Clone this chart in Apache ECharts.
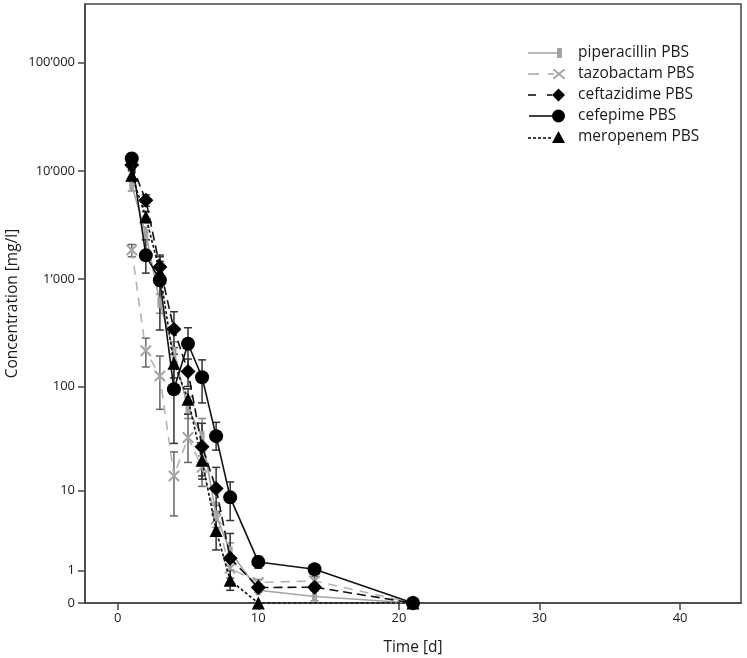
<!DOCTYPE html>
<html><head><meta charset="utf-8">
<script src="https://cdn.jsdelivr.net/npm/echarts@6/dist/echarts.min.js"></script>
<style>html,body{margin:0;padding:0;background:#fff}#c{width:747px;height:658px}</style>
</head><body><div id="c"></div>
<script>
// ---------- data ----------
const times = [1, 2, 3, 4, 5, 6, 7, 8, 10, 14, 21];
const seriesNames = ['piperacillin PBS', 'tazobactam PBS', 'ceftazidime PBS', 'cefepime PBS', 'meropenem PBS'];

const piperacillin     = [7400, 2600, 600, 210, 62, 34, 5.5, 2.0, 0.31, 0.15, 0];
const piperacillinLow  = [6500, 2300, 480, 170, 50, 22, 4.0, 1.5, 0.25, 0.05, 0];
const piperacillinHigh = [8400, 3000, 720, 260, 80, 50, 7.5, 2.6, 0.40, 0.30, 0];

const tazobactam     = [1850, 215, 125, 14, 33, 17, 5.0, 1.1, 0.55, 0.60, 0];
const tazobactamLow  = [1600, 152, 61, 5.4, 19, 11, 3.3, 0.7, 0.45, 0.45, 0];
const tazobactamHigh = [2080, 282, 192, 24, 55, 25, 7.0, 1.6, 0.65, 0.75, 0];

const ceftazidime     = [11300, 5350, 1290, 340, 138, 27, 10.5, 1.6, 0.39, 0.40, 0];
const ceftazidimeLow  = [10000, 4700, 920, 200, 100, 14, 6.0, 1.0, 0.30, 0.30, 0];
const ceftazidimeHigh = [12500, 6000, 1660, 495, 180, 45, 17, 3.4, 0.50, 0.50, 0];

const cefepime     = [13000, 1650, 970, 94, 250, 122, 34, 8.5, 1.4, 1.05, 0];
const cefepimeLow  = [11500, 1130, 335, 29, 148, 70, 25, 4.8, 1.1, 0.95, 0];
const cefepimeHigh = [14500, 2300, 1600, 160, 352, 177, 46, 12.2, 1.7, 1.15, 0];

const meropenem     = [9100, 3750, 1150, 165, 76, 20, 3.7, 0.62, 0, null, 0];
const meropenemLow  = [8000, 3300, 900, 120, 55, 13, 2.1, 0.31, 0, null, 0];
const meropenemHigh = [10300, 4200, 1450, 230, 95, 28, 5.8, 1.0, 0, null, 0];

const yTickValues = [0, 1, 10, 100, 1000, 10000, 100000];
const yTickLabels = ['0', '1', '10', '100', '1’000', '10’000', '100’000'];
const xTickValues = [0, 10, 20, 30, 40];

// ---------- helpers ----------
const tr = v => Math.log10(v + 1);
const FONT = "'Open Sans', 'Noto Sans', sans-serif";
const TXT = '#1a1a1a';
const AX = '#444';

const xPath = 'path://M0,0L1.6,0L12,10.4L12,12L10.4,12L0,1.6Z M12,0L12,1.6L1.6,12L0,12L0,10.4L10.4,0Z';

const styles = [
  {vals: piperacillin, lo: piperacillinLow, hi: piperacillinHigh, color: '#a3a3a3', mcolor: '#a3a3a3', ecolor: '#8a8a8a', lineType: 'solid', width: 1.6, symbol: 'rect', size: [5, 10],
   icon: 'path://M0,4.3H29V5.7H0Z M29,0H34V10H29Z', iw: 34, ih: 10},
  {vals: tazobactam, lo: tazobactamLow, hi: tazobactamHigh, color: '#b3b3b3', mcolor: '#a6a6a6', ecolor: '#666', lineType: [9, 7], width: 1.6, symbol: xPath, size: 11,
   icon: 'path://M0,4.3H11V5.7H0Z M20,4.3H26V5.7H20Z M25,0L26.5,0L37,8.75L37,10L35.5,10L25,1.25Z M37,0L37,1.25L26.5,10L25,10L25,8.75L35.5,0Z', iw: 37, ih: 10},
  {vals: ceftazidime, lo: ceftazidimeLow, hi: ceftazidimeHigh, color: '#111', mcolor: '#000', ecolor: '#333', lineType: [9, 5], width: 1.6, symbol: 'diamond', size: 15,
   icon: 'path://M0,5.8H8V7.2H0Z M19,5.8H24V7.2H19Z M30.5,0L37,6.5L30.5,13L24,6.5Z', iw: 37, ih: 13},
  {vals: cefepime, lo: cefepimeLow, hi: cefepimeHigh, color: '#111', mcolor: '#000', ecolor: '#333', lineType: 'solid', width: 1.6, symbol: 'circle', size: 14,
   icon: 'path://M1,5.8H24V7.2H1Z M24,6.5A6.5,6.5 0 1,1 37,6.5A6.5,6.5 0 1,1 24,6.5Z M0,6.4H0.01V6.6H0Z', iw: 37, ih: 13},
  {vals: meropenem, lo: meropenemLow, hi: meropenemHigh, color: '#111', mcolor: '#000', ecolor: '#333', lineType: [3, 2.2], width: 1.6, symbol: 'triangle', size: 13,
   icon: 'path://M0,6.3H3V7.7H0Z M5,6.3H8V7.7H5Z M10,6.3H13V7.7H10Z M15,6.3H18V7.7H15Z M20,6.3H23V7.7H20Z M30.5,0L37,12L24,12Z', iw: 37, ih: 12}
];

const legendCenters = [51, 72, 93, 114, 135];

function errorSeries(s, idx) {
  const data = [];
  times.forEach((t, i) => {
    if (s.lo[i] == null || s.hi[i] == null) return;
    if (s.hi[i] - s.lo[i] <= 0) return;
    data.push([t, tr(s.lo[i]), tr(s.hi[i])]);
  });
  return {
    type: 'custom', name: 'err' + idx, silent: true, z: 2, clip: true,
    data: data,
    renderItem: (params, api) => {
      const x = api.value(0);
      const p1 = api.coord([x, api.value(1)]);
      const p2 = api.coord([x, api.value(2)]);
      const w = 4;
      const st = {stroke: s.ecolor, lineWidth: 1.5, fill: null};
      return {type: 'group', children: [
        {type: 'line', shape: {x1: p1[0], y1: p1[1], x2: p2[0], y2: p2[1]}, style: st},
        {type: 'line', shape: {x1: p1[0] - w, y1: p1[1], x2: p1[0] + w, y2: p1[1]}, style: st},
        {type: 'line', shape: {x1: p2[0] - w, y1: p2[1], x2: p2[0] + w, y2: p2[1]}, style: st}
      ]};
    }
  };
}

function lineSeries(s, idx) {
  const data = [];
  times.forEach((t, i) => { if (s.vals[i] != null) data.push([t, tr(s.vals[i])]); });
  return {
    type: 'line', name: seriesNames[idx], data: data, z: 3 + idx,
    symbol: s.symbol, symbolSize: s.size, showAllSymbol: true,
    itemStyle: {color: s.mcolor, borderWidth: 0},
    lineStyle: {color: s.color, width: s.width, type: s.lineType},
    emphasis: {disabled: true}
  };
}

const series = [];
styles.forEach((s, i) => series.push(errorSeries(s, i)));
styles.forEach((s, i) => series.push(lineSeries(s, i)));

const yTr = yTickValues.map(tr);

const option = {
  animation: false,
  backgroundColor: '#fff',
  grid: {left: 85, right: 6, top: 4, bottom: 55, show: true, borderColor: AX, borderWidth: 1.5,
         containLabel: false, outerBoundsMode: 'none'},
  xAxis: {
    type: 'value', min: -2.326, max: 44.33,
    name: 'Time [d]', nameLocation: 'middle', nameGap: 37, nameMoveOverlap: false,
    nameTextStyle: {fontFamily: FONT, fontSize: 15.5, color: TXT},
    axisLine: {show: true, onZero: false, lineStyle: {color: AX, width: 1.5}},
    axisTick: {show: true, length: 7, customValues: xTickValues, lineStyle: {color: AX, width: 1.5}},
    axisLabel: {customValues: xTickValues, fontFamily: FONT, fontSize: 13, color: TXT, margin: 9},
    splitLine: {show: false}
  },
  yAxis: {
    type: 'value', min: 0, max: 5.544,
    name: 'Concentration [mg/l]', nameLocation: 'middle', nameGap: 64, nameMoveOverlap: false,
    nameTextStyle: {fontFamily: FONT, fontSize: 15.5, color: TXT},
    axisLine: {show: true, onZero: false, lineStyle: {color: AX, width: 1.5}},
    axisTick: {show: true, length: 7, customValues: yTr, lineStyle: {color: AX, width: 1.5}},
    axisLabel: {
      customValues: yTr, fontFamily: FONT, fontSize: 13, color: TXT, margin: 10,
      formatter: v => {
        for (let i = 0; i < yTr.length; i++) if (Math.abs(yTr[i] - v) < 1e-6) return yTickLabels[i];
        return '';
      }
    },
    splitLine: {show: false}
  },
  legend: styles.map((s, i) => ({
    data: [{name: seriesNames[i], icon: s.icon}],
    left: 528, top: legendCenters[i] - 6, padding: 0,
    orient: 'vertical', selectedMode: false,
    itemWidth: s.iw, itemHeight: s.ih,
    itemStyle: {borderWidth: 0},
    textStyle: {fontFamily: FONT, fontSize: 15.5, color: TXT, padding: [0, 0, 0, 37 - s.iw + 8]}
  })),
  series: series
};

const chart = echarts.init(document.getElementById('c'), null, {renderer: 'canvas'});
chart.setOption(option);
</script>
</body></html>
